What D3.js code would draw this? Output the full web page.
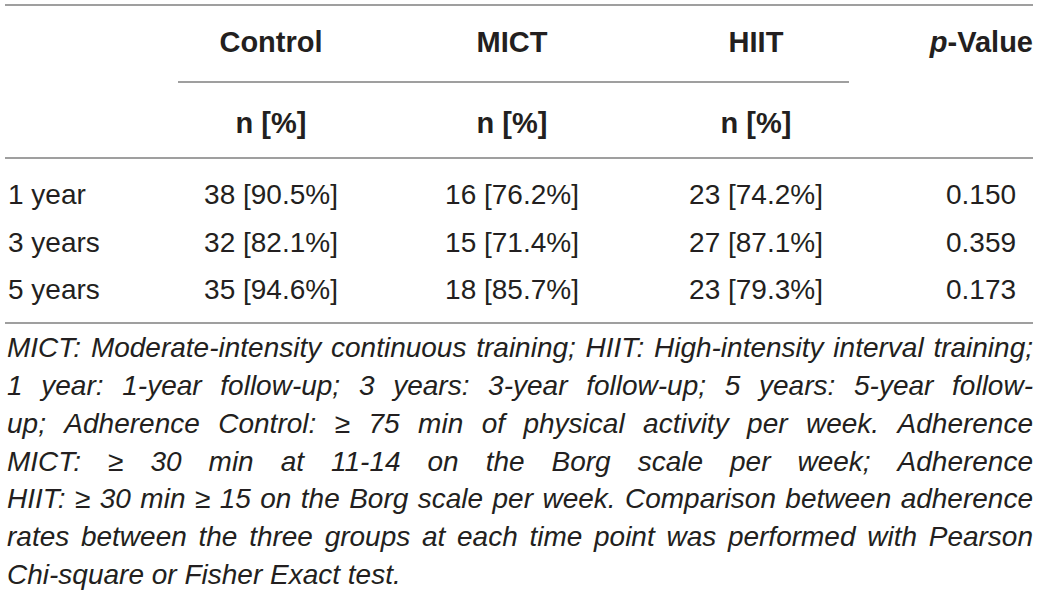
<!DOCTYPE html>
<html>
<head>
<meta charset="utf-8">
<script src="https://cdn.jsdelivr.net/npm/d3@7"></script>
<style>
  html, body { margin: 0; padding: 0; background: #fff; }
  svg { display: block; }
  text { font-family: "Liberation Sans", Arial, sans-serif; fill: #231f20; }
</style>
</head>
<body>
<svg id="chart" width="1040" height="597"></svg>
<script>
// ---- data ----
const groups = ["Control", "MICT", "HIIT"];
const subHeader = "n [%]";
const pHeader = "p-Value";
const timepoints = ["1 year", "3 years", "5 years"];
const controlN = [38, 32, 35];
const controlPct = [90.5, 82.1, 94.6];
const mictN = [16, 15, 18];
const mictPct = [76.2, 71.4, 85.7];
const hiitN = [23, 27, 23];
const hiitPct = [74.2, 87.1, 79.3];
const pValues = ["0.150", "0.359", "0.173"];
const footnoteLines = [
  "MICT: Moderate-intensity continuous training; HIIT: High-intensity interval training;",
  "1 year: 1-year follow-up; 3 years: 3-year follow-up; 5 years: 5-year follow-",
  "up; Adherence Control: \u2265 75 min of physical activity per week. Adherence",
  "MICT: \u2265 30 min at 11-14 on the Borg scale per week; Adherence",
  "HIIT: \u2265 30 min \u2265 15 on the Borg scale per week. Comparison between adherence",
  "rates between the three groups at each time point was performed with Pearson",
  "Chi-square or Fisher Exact test."
];

// ---- layout ----
const svg = d3.select("#chart");
const left = 7, right = 1033;

const colKeys = ["Control", "MICT", "HIIT", "p"];
const colX = d3.scaleOrdinal().domain(colKeys).range([271, 512, 756, 981]);

const rowY = d3.scalePoint().domain(timepoints).range([204, 299]);
const footY = d3.scaleLinear().domain([0, footnoteLines.length - 1]).range([357, 584]);

const lineColor = "#7f7f7f";
function hline(x1, x2, y) {
  svg.append("line").attr("x1", x1).attr("x2", x2).attr("y1", y).attr("y2", y)
    .attr("stroke", lineColor).attr("stroke-width", 1.5);
}
hline(5, right, 5);
hline(178, 849, 82);
hline(5, right, 158);
hline(5, right, 323);

// header
const hdr = svg.append("g").attr("font-weight", "bold").attr("font-size", 29);
groups.forEach(g => {
  hdr.append("text").attr("x", colX(g)).attr("y", 52).attr("text-anchor", "middle").text(g);
  hdr.append("text").attr("x", colX(g)).attr("y", 133).attr("text-anchor", "middle").text(subHeader);
});
const ph = hdr.append("text").attr("x", right).attr("y", 52).attr("text-anchor", "end");
ph.append("tspan").attr("font-style", "italic").text(pHeader.split("-")[0]);
ph.append("tspan").text("-" + pHeader.split("-")[1]);

// body
const body = svg.append("g").attr("font-size", 28);
const fmt = (n, p) => `${n} [${d3.format(".1f")(p)}%]`;
timepoints.forEach((t, i) => {
  const y = rowY(t);
  body.append("text").attr("x", 8).attr("y", y).text(t);
  body.append("text").attr("x", colX("Control")).attr("y", y).attr("text-anchor", "middle").text(fmt(controlN[i], controlPct[i]));
  body.append("text").attr("x", colX("MICT")).attr("y", y).attr("text-anchor", "middle").text(fmt(mictN[i], mictPct[i]));
  body.append("text").attr("x", colX("HIIT")).attr("y", y).attr("text-anchor", "middle").text(fmt(hiitN[i], hiitPct[i]));
  body.append("text").attr("x", colX("p")).attr("y", y).attr("text-anchor", "middle").text(pValues[i]);
});

// footnote (justified)
const foot = svg.append("g").attr("font-size", 28).attr("font-style", "italic");
footnoteLines.forEach((line, i) => {
  const y = footY(i);
  const words = line.split(" ");
  const last = i === footnoteLines.length - 1;
  if (last) {
    foot.append("text").attr("x", left).attr("y", y).text(line);
    return;
  }
  const widths = words.map(w => {
    const t = foot.append("text").text(w);
    const wd = t.node().getComputedTextLength();
    t.remove();
    return wd;
  });
  const total = d3.sum(widths);
  const gap = (right - left - total) / (words.length - 1);
  let x = left;
  words.forEach((w, k) => {
    foot.append("text").attr("x", x).attr("y", y).text(w);
    x += widths[k] + gap;
  });
});
</script>
</body>
</html>
